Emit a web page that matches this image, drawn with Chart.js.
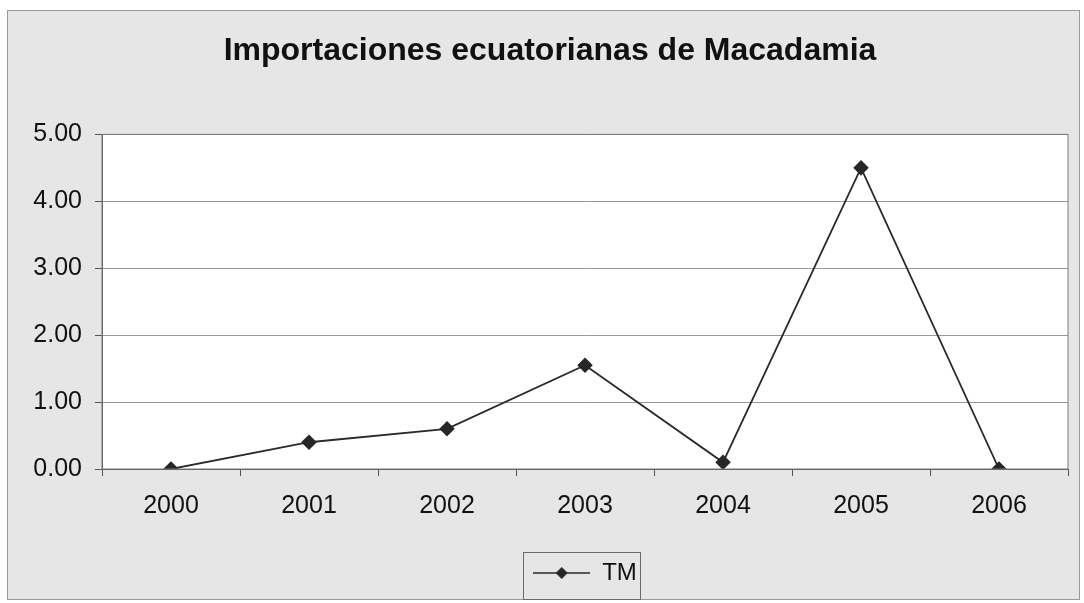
<!DOCTYPE html>
<html>
<head>
<meta charset="utf-8">
<script src="https://cdn.jsdelivr.net/npm/chart.js@4.4.1/dist/chart.umd.min.js"></script>
<style>
  html, body { margin: 0; padding: 0; background: #ffffff; }
  #wrap { width: 1084px; height: 603px; }
</style>
</head>
<body>
<div id="wrap"><canvas id="grafico" width="1084" height="603"></canvas></div>
<script>
// datos
const anios = ['2000', '2001', '2002', '2003', '2004', '2005', '2006'];
const toneladas = [0, 0.4, 0.6, 1.55, 0.1, 4.5, 0];
const titulo = 'Importaciones ecuatorianas de Macadamia';
const serie = 'TM';

// icono de la leyenda: linea con rombo
function iconoLeyenda() {
    const c = document.createElement('canvas');
    c.width = 57;
    c.height = 14;
    const g = c.getContext('2d');
    g.strokeStyle = '#2a2a2a';
    g.lineWidth = 1.6;
    g.beginPath();
    g.moveTo(0, 7);
    g.lineTo(57, 7);
    g.stroke();
    g.fillStyle = '#262626';
    g.beginPath();
    g.moveTo(28.5, 1);
    g.lineTo(34.5, 7);
    g.lineTo(28.5, 13);
    g.lineTo(22.5, 7);
    g.closePath();
    g.fill();
    return c;
}

const fondo = {
    id: 'fondo',
    afterLayout(chart) {
        // la leyenda de Excel queda un poco a la derecha
        chart.legend.left += 35;
        chart.legend.right += 35;
    },
    beforeDraw(chart) {
        const ctx = chart.ctx;
        const a = chart.chartArea;
        ctx.save();
        ctx.fillStyle = '#ffffff';
        ctx.fillRect(0, 0, chart.width, chart.height);
        ctx.fillStyle = '#e6e6e6';
        ctx.fillRect(7, 10, 1073, 590);
        ctx.strokeStyle = '#9a9a9a';
        ctx.lineWidth = 1;
        ctx.strokeRect(7.5, 10.5, 1072, 589);
        ctx.fillStyle = '#ffffff';
        ctx.fillRect(a.left, a.top, a.right - a.left, a.bottom - a.top);
        ctx.restore();
    },
    afterDraw(chart) {
        const ctx = chart.ctx;
        const a = chart.chartArea;
        const l = chart.legend;
        ctx.save();
        ctx.strokeStyle = '#7a7a7a';
        ctx.lineWidth = 1;
        ctx.strokeRect(a.left, a.top, a.right - a.left, a.bottom - a.top);
        // marco de la leyenda
        const cx = Math.round((l.left + l.right) / 2);
        ctx.strokeStyle = '#6a6a6a';
        ctx.strokeRect(cx - 61.5, Math.round(l.top) + 1.5, 117, 47);
        ctx.restore();
    }
};

const ctx = document.getElementById('grafico').getContext('2d');

new Chart(ctx, {
    type: 'line',
    data: {
        labels: anios,
        datasets: [{
            label: serie,
            data: toneladas,
            borderColor: '#2a2a2a',
            borderWidth: 1.8,
            pointStyle: 'rectRot',
            pointRadius: 6.5,
            pointBackgroundColor: '#262626',
            pointBorderColor: '#262626',
            tension: 0,
            fill: false
        }]
    },
    options: {
        responsive: false,
        animation: false,
        layout: { padding: { left: 32, right: 16, top: 10, bottom: 8 } },
        scales: {
            x: {
                offset: true,
                grid: { offset: true, drawOnChartArea: false, drawTicks: true, tickLength: 7, color: '#555' },
                border: { color: '#555' },
                ticks: { color: '#111', font: { family: 'Liberation Sans', size: 25 }, padding: 15 },
                afterFit: s => { s.height = 82; }
            },
            y: {
                min: 0,
                max: 5,
                grid: { color: '#999', tickLength: 7, tickColor: '#555' },
                border: { color: '#555' },
                ticks: {
                    stepSize: 1,
                    color: '#111',
                    font: { family: 'Liberation Sans', size: 25 },
                    padding: 13,
                    callback: v => v.toFixed(2)
                },
                afterFit: s => { s.width = 70; }
            }
        },
        plugins: {
            title: {
                display: true,
                text: titulo,
                color: '#111',
                font: { family: 'Liberation Sans', size: 32, weight: 'bold' },
                padding: { top: 22, bottom: 64 }
            },
            legend: {
                position: 'bottom',
                labels: {
                    color: '#111',
                    font: { family: 'Liberation Sans', size: 24 },
                    usePointStyle: true,
                    pointStyleWidth: 57,
                    padding: 10,
                    generateLabels: chart => [{
                        text: serie,
                        pointStyle: iconoLeyenda(),
                        fillStyle: '#222',
                        strokeStyle: '#222',
                        lineWidth: 0,
                        datasetIndex: 0,
                        fontColor: '#111'
                    }]
                }
            },
            tooltip: { enabled: false }
        }
    },
    plugins: [fondo]
});
</script>
</body>
</html>
